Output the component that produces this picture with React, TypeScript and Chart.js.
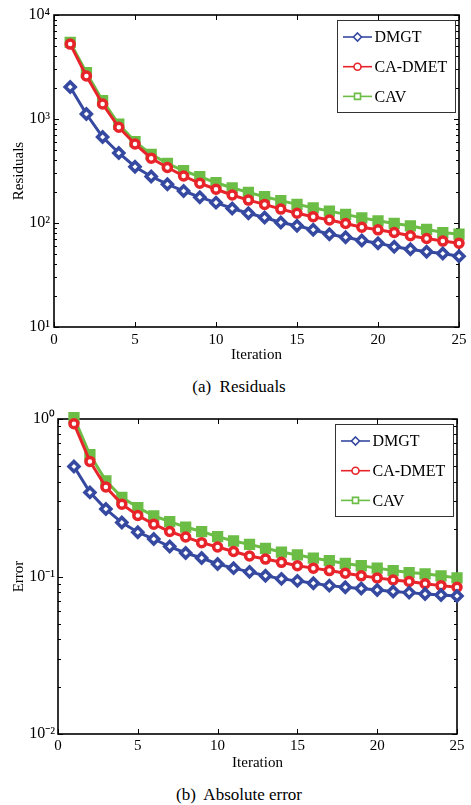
import React, { useEffect, useRef } from 'react';
import { Chart, registerables } from 'chart.js';

Chart.register(...registerables);

// ---------- data ----------
const iterations = [1, 2, 3, 4, 5, 6, 7, 8, 9, 10, 11, 12, 13, 14, 15, 16, 17, 18, 19, 20, 21, 22, 23, 24, 25];
const xTicks = [0, 5, 10, 15, 20, 25];

const seriesLabels = ['DMGT', 'CA-DMET', 'CAV'];

const residualDMGT = [2030, 1117, 671, 471, 348, 280, 236, 203, 177, 157, 138, 124, 113, 101, 94, 86, 78, 73, 68, 64, 59, 56, 53, 51, 48];
const residualCADMET = [5250, 2590, 1393, 832, 575, 420, 342, 283, 241, 211, 186, 166, 151, 136, 124, 115, 107, 99, 91, 86, 81, 75.5, 71, 67, 64];
const residualCAV = [5460, 2790, 1500, 890, 606, 457, 375, 318, 279, 244, 218, 197, 179, 164, 151, 140, 130, 121, 112, 105, 99, 94, 87, 81, 78];

const errorDMGT = [0.5, 0.342, 0.268, 0.22, 0.191, 0.173, 0.155, 0.141, 0.131, 0.12, 0.113, 0.107, 0.101, 0.0966, 0.0938, 0.0906, 0.0875, 0.0855, 0.0838, 0.0822, 0.0802, 0.079, 0.0775, 0.0764, 0.0753];
const errorCADMET = [0.933, 0.538, 0.37, 0.288, 0.244, 0.215, 0.193, 0.178, 0.164, 0.154, 0.144, 0.135, 0.129, 0.123, 0.117, 0.113, 0.109, 0.105, 0.101, 0.098, 0.095, 0.093, 0.09, 0.0875, 0.0855];
const errorCAV = [1.02, 0.593, 0.405, 0.318, 0.274, 0.243, 0.223, 0.206, 0.193, 0.179, 0.168, 0.16, 0.151, 0.143, 0.137, 0.131, 0.126, 0.121, 0.117, 0.113, 0.109, 0.106, 0.104, 0.101, 0.098];

const residualYTicks = [10, 100, 1000, 10000];
const residualYTickLabels = ['10¹', '10²', '10³', '10⁴'];
const errorYTicks = [0.01, 0.1, 1];
const errorYTickLabels = ['10⁻²', '10⁻¹', '10⁰'];

// ---------- styles ----------
const FONT = "'Liberation Serif', 'Times New Roman', Times, serif";
const COLORS = ['#3649a0', '#e8242b', '#6bbd45'];
const POINT_STYLES = ['rectRot', 'circle', 'rect'];
const POINT_RADII = [5, 4, 5.5];
const POINT_FILLS = ['#ffffff', '#ffffff', '#6bbd45'];

const framePlugin = {
  id: 'frameTicks',
  beforeDatasetsDraw(chart: any) {
    const { ctx, chartArea } = chart;
    const { left, right, top, bottom } = chartArea;
    const xs = chart.scales.x;
    const ys = chart.scales.y;
    ctx.save();
    ctx.strokeStyle = '#000';
    ctx.lineWidth = 1;
    ctx.beginPath();
    for (const v of xTicks) {
      const px = Math.round(xs.getPixelForValue(v)) + 0.5;
      ctx.moveTo(px, bottom);
      ctx.lineTo(px, bottom - 5);
      ctx.moveTo(px, top);
      ctx.lineTo(px, top + 5);
    }
    const lo = Math.round(Math.log10(ys.min));
    const hi = Math.round(Math.log10(ys.max));
    for (let d = lo; d <= hi; d++) {
      for (let k = 1; k <= 9; k++) {
        const val = k * Math.pow(10, d);
        if (val > ys.max * 1.0001) break;
        const py = Math.round(ys.getPixelForValue(val)) + 0.5;
        const len = k === 1 ? 5 : 3;
        ctx.moveTo(left, py);
        ctx.lineTo(left + len, py);
        ctx.moveTo(right, py);
        ctx.lineTo(right - len, py);
      }
    }
    ctx.stroke();
    ctx.lineWidth = 1.6;
    ctx.strokeRect(left, top, right - left, bottom - top);
    ctx.restore();
  },
};

function drawMarker(ctx: CanvasRenderingContext2D, style: string, x: number, y: number) {
  ctx.beginPath();
  if (style === 'rectRot') {
    const r = 4;
    ctx.moveTo(x, y - r);
    ctx.lineTo(x + r, y);
    ctx.lineTo(x, y + r);
    ctx.lineTo(x - r, y);
    ctx.closePath();
  } else if (style === 'circle') {
    ctx.arc(x, y, 3.5, 0, Math.PI * 2);
  } else {
    ctx.rect(x - 3, y - 3, 6, 6);
  }
  ctx.fillStyle = '#fff';
  ctx.fill();
  ctx.stroke();
}

const legendPlugin = {
  id: 'boxLegend',
  afterDraw(chart: any) {
    const { ctx, chartArea } = chart;
    const w = 118;
    const h = 91.5;
    const bx = chartArea.right - 4 - w;
    const by = chartArea.top + 5;
    ctx.save();
    ctx.fillStyle = '#fff';
    ctx.fillRect(bx, by, w, h);
    ctx.strokeStyle = '#333';
    ctx.lineWidth = 1;
    ctx.strokeRect(Math.round(bx) + 0.5, Math.round(by) + 0.5, Math.round(w), Math.round(h));
    chart.data.datasets.forEach((ds: any, i: number) => {
      const y = by + 17 + i * 29.7;
      ctx.strokeStyle = ds.borderColor;
      ctx.lineWidth = 1.6;
      ctx.beginPath();
      ctx.moveTo(bx + 6, y);
      ctx.lineTo(bx + 35, y);
      ctx.stroke();
      drawMarker(ctx, ds.pointStyle, bx + 20.5, y);
      ctx.fillStyle = '#000';
      ctx.font = `16px ${FONT}`;
      ctx.textAlign = 'left';
      ctx.textBaseline = 'middle';
      ctx.fillText(ds.label, bx + 37.5, y + 1);
    });
    ctx.restore();
  },
};

type PanelProps = {
  top: number;
  height: number;
  plotLeft: number;
  plotRight: number;
  plotTop: number;
  plotBottom: number;
  yMin: number;
  yMax: number;
  yTicks: number[];
  yTickLabels: string[];
  yTitle: string;
  series: number[][];
  xTickPad: number;
  xTitlePad: number;
  yTickPad: number;
};

function Panel(p: PanelProps) {
  const ref = useRef<HTMLCanvasElement>(null);
  useEffect(() => {
    const canvas = ref.current!;
    const chart = new Chart(canvas, {
      type: 'line',
      data: {
        datasets: p.series.map((vals, si) => ({
          label: seriesLabels[si],
          data: vals.map((v, i) => ({ x: iterations[i], y: v })),
          borderColor: COLORS[si],
          backgroundColor: COLORS[si],
          borderWidth: 3,
          pointStyle: POINT_STYLES[si],
          pointRadius: POINT_RADII[si],
          pointBorderWidth: 3.5,
          pointBackgroundColor: POINT_FILLS[si],
          pointBorderColor: COLORS[si],
          tension: 0,
          clip: false,
        })),
      } as any,
      options: {
        responsive: false,
        animation: false,
        devicePixelRatio: 1,
        layout: { padding: { top: p.plotTop, right: 471 - p.plotRight, left: 0, bottom: 0 } },
        plugins: { legend: { display: false }, tooltip: { enabled: false } },
        scales: {
          x: {
            type: 'linear',
            min: 0,
            max: 25,
            afterBuildTicks: (s: any) => {
              s.ticks = xTicks.map((v) => ({ value: v }));
            },
            afterFit: (s: any) => {
              s.height = p.height - p.plotBottom;
            },
            grid: { display: false, drawTicks: false },
            border: { display: false },
            ticks: {
              padding: p.xTickPad,
              color: '#000',
              font: { family: FONT, size: 15 },
              maxRotation: 0,
              autoSkip: false,
            },
            title: {
              display: true,
              text: 'Iteration',
              color: '#000',
              font: { family: FONT, size: 15 },
              padding: { top: 0, bottom: p.xTitlePad },
            },
          },
          y: {
            type: 'logarithmic',
            min: p.yMin,
            max: p.yMax,
            afterBuildTicks: (s: any) => {
              s.ticks = p.yTicks.map((v) => ({ value: v }));
            },
            afterFit: (s: any) => {
              s.width = p.plotLeft;
            },
            grid: { display: false, drawTicks: false },
            border: { display: false },
            ticks: {
              padding: p.yTickPad,
              color: '#000',
              font: { family: FONT, size: 16 },
              autoSkip: false,
              callback: (v: any) => {
                const i = p.yTicks.findIndex((t) => Math.abs(Math.log10(t) - Math.log10(Number(v))) < 1e-6);
                return i >= 0 ? p.yTickLabels[i] : '';
              },
            },
            title: {
              display: true,
              text: p.yTitle,
              color: '#000',
              font: { family: FONT, size: 15 },
              padding: { top: 10, bottom: 0 },
            },
          },
        },
      } as any,
      plugins: [framePlugin, legendPlugin],
    });
    return () => chart.destroy();
  }, []);
  return (
    <canvas
      ref={ref}
      width={471}
      height={p.height}
      style={{ position: 'absolute', left: 0, top: p.top, width: 471, height: p.height, display: 'block' }}
    />
  );
}

const captionStyle: React.CSSProperties = {
  position: 'absolute',
  left: 0,
  width: 478,
  textAlign: 'center',
  fontFamily: FONT,
  fontSize: 17,
  lineHeight: '20px',
  color: '#000',
  whiteSpace: 'pre',
};

export default function App() {
  return (
    <div style={{ position: 'absolute', left: 0, top: 0, width: 471, height: 805, background: '#fff', overflow: 'hidden' }}>
      <Panel
        top={0}
        height={365}
        plotLeft={54}
        plotRight={459}
        plotTop={15}
        plotBottom={327}
        yMin={10}
        yMax={10000}
        yTicks={residualYTicks}
        yTickLabels={residualYTickLabels}
        yTitle="Residuals"
        series={[residualDMGT, residualCADMET, residualCAV]}
        xTickPad={4}
        xTitlePad={1}
        yTickPad={4}
      />
      <div style={{ ...captionStyle, top: 377 }}>{'(a)  Residuals'}</div>
      <Panel
        top={400}
        height={372}
        plotLeft={58}
        plotRight={457}
        plotTop={19}
        plotBottom={334}
        yMin={0.01}
        yMax={1}
        yTicks={errorYTicks}
        yTickLabels={errorYTickLabels}
        yTitle="Error"
        series={[errorDMGT, errorCADMET, errorCAV]}
        xTickPad={3}
        xTitlePad={0}
        yTickPad={3}
      />
      <div style={{ ...captionStyle, top: 785 }}>{'(b)  Absolute error'}</div>
    </div>
  );
}
